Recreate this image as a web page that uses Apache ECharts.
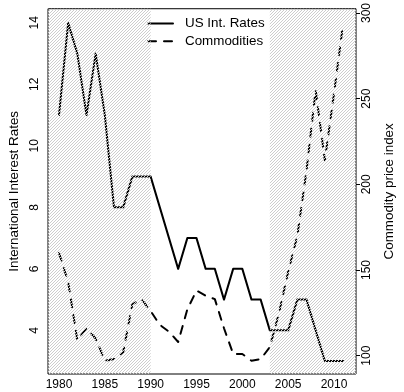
<!DOCTYPE html>
<html>
<head>
<meta charset="utf-8">
<script src="https://cdn.jsdelivr.net/npm/echarts@6/dist/echarts.min.js"></script>
<style>
  html, body { margin: 0; padding: 0; background: #fff; }
  #chart { width: 404px; height: 392px; }
</style>
</head>
<body>
<div id="chart"></div>
<script>
// Annual observations
const years = [1980, 1981, 1982, 1983, 1984, 1985, 1986, 1987, 1988, 1989,
               1990, 1991, 1992, 1993, 1994, 1995, 1996, 1997, 1998, 1999,
               2000, 2001, 2002, 2003, 2004, 2005, 2006, 2007, 2008, 2009,
               2010, 2011];
// US interest rates (%)
const usRates = [11, 14, 13, 11, 13, 11, 8, 8, 9, 9,
                 9, 8, 7, 6, 7, 7, 6, 6, 5, 6,
                 6, 5, 5, 4, 4, 4, 5, 5, 4, 3,
                 3, 3];
// Commodity price index
const commodities = [160, 143, 109, 116, 110, 97, 98, 102, 130, 133,
                     126, 118, 114, 108, 127, 138, 135, 133, 116, 101,
                     101, 97, 98, 105, 125, 149, 170, 208, 255, 214,
                     253, 294];

// Tick labels
const yearTicks = [1980, 1985, 1990, 1995, 2000, 2005, 2010];
const rateTicks = [4, 6, 8, 10, 12, 14];
const indexTicks = [100, 150, 200, 250, 300];

// Axis ranges (data range padded by 4%)
const xMin = 1978.8, xMax = 2012.4;
const rateMin = 2.58, rateMax = 14.46;
const indexMin = 89.3, indexMax = 302.5;

// Hatched periods
const shadedPeriods = [[xMin, 1990], [2003, xMax]];

const font = "'Liberation Sans', Arial, Helvetica, sans-serif";

// 45-degree hatch tile
function hatchTile() {
  const c = document.createElement('canvas');
  c.width = 3; c.height = 3;
  const g = c.getContext('2d');
  g.fillStyle = '#cdcdcd';
  g.fillRect(0, 2, 1, 1);
  g.fillRect(1, 1, 1, 1);
  g.fillRect(2, 0, 1, 1);
  return c;
}

const chart = echarts.init(document.getElementById('chart'), null, { renderer: 'canvas' });

const option = {
  animation: false,
  textStyle: { fontFamily: font, color: '#000' },
  grid: {
    left: 44, top: 7, width: 319, height: 367,
    show: true, borderColor: '#000', borderWidth: 1, backgroundColor: 'transparent'
  },
  legend: {
    left: 147, top: 17, orient: 'vertical',
    itemWidth: 25, itemHeight: 14, itemGap: 4.7, padding: 0,
    itemStyle: { opacity: 0 },
    textStyle: { fontFamily: font, fontSize: 13.4, color: '#000', padding: [0, 0, 0, 7] },
    data: ['US Int. Rates', 'Commodities']
  },
  xAxis: {
    type: 'value', min: xMin, max: xMax,
    splitLine: { show: false },
    axisLine: { show: false },
    axisTick: { show: false },
    axisLabel: {
      customValues: yearTicks, margin: 5, fontSize: 12, color: '#000', fontFamily: font,
      formatter: v => String(v)
    }
  },
  yAxis: [
    {
      type: 'value', position: 'left', min: rateMin, max: rateMax,
      name: 'International Interest Rates', nameLocation: 'middle', nameGap: 27,
      nameTextStyle: { fontSize: 13.4, color: '#000', fontFamily: font },
      splitLine: { show: false },
      axisLine: { show: false },
      axisTick: { show: false },
      axisLabel: {
        customValues: rateTicks, rotate: 90, margin: 7, fontSize: 12, color: '#000', fontFamily: font,
        formatter: v => String(v)
      }
    },
    {
      type: 'value', position: 'right', min: indexMin, max: indexMax,
      name: 'Commodity price index', nameLocation: 'middle', nameGap: 27,
      nameTextStyle: { fontSize: 13.4, color: '#000', fontFamily: font },
      splitLine: { show: false },
      axisLine: { show: false },
      axisTick: { show: true, customValues: indexTicks, length: 4, lineStyle: { color: '#000', width: 1 } },
      axisLabel: {
        customValues: indexTicks, rotate: 90, margin: 5, fontSize: 12, color: '#000', fontFamily: font,
        formatter: v => String(v)
      }
    }
  ],
  series: [
    {
      name: 'US Int. Rates', type: 'line', yAxisIndex: 0, z: 3,
      data: years.map((y, i) => [y, usRates[i]]),
      symbol: 'none',
      itemStyle: { color: '#000' },
      lineStyle: { color: '#000', width: 2, cap: 'round', join: 'round' }
    },
    {
      name: 'Commodities', type: 'line', yAxisIndex: 1, z: 3,
      data: years.map((y, i) => [y, commodities[i]]),
      symbol: 'none',
      itemStyle: { color: '#000' },
      lineStyle: { color: '#000', width: 2, type: [8, 8], cap: 'round', join: 'round' }
    },
    {
      name: 'periods', type: 'line', yAxisIndex: 0, z: 10,
      data: [], silent: true,
      markArea: {
        z: 10, silent: true,
        itemStyle: { color: { image: hatchTile(), repeat: 'repeat' }, borderWidth: 0 },
        data: shadedPeriods.map(p => [{ xAxis: p[0] }, { xAxis: p[1] }])
      }
    }
  ]
};

chart.setOption(option);
</script>
</body>
</html>
